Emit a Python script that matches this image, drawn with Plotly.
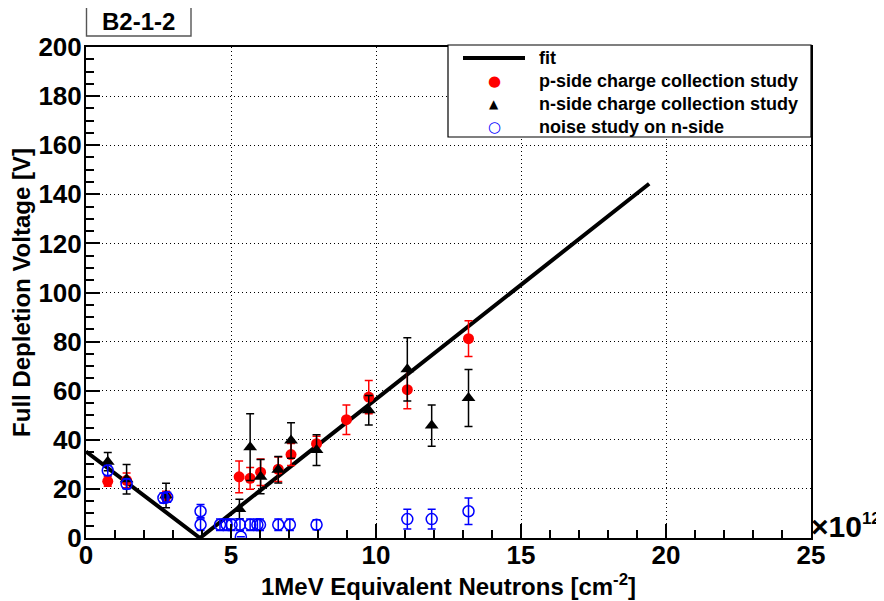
import plotly.graph_objects as go

# ---------------- data ----------------
fit_x = [0.0, 3.93, 19.42]
fit_y = [35.2, 0.0, 144.3]

p_x = [0.75, 1.40, 2.76, 5.28, 5.66, 6.02, 6.63, 7.07, 7.95, 8.98, 9.75, 11.08, 13.19]
p_y = [23.1, 23.5, 17.0, 24.9, 24.3, 26.8, 28.0, 34.0, 38.4, 48.2, 57.4, 60.4, 81.2]
p_err = [2.0, 3.0, 2.0, 6.5, 4.4, 5.4, 5.0, 4.5, 3.0, 6.0, 6.8, 7.8, 7.3]

n_x = [0.75, 1.40, 2.76, 5.29, 5.66, 6.02, 6.63, 7.07, 7.95, 9.75, 11.08, 11.92, 13.19]
n_y = [31.1, 23.9, 17.3, 11.8, 37.0, 25.0, 27.8, 39.7, 35.8, 52.0, 68.7, 45.8, 57.0]
n_err = [3.7, 6.0, 5.0, 4.0, 13.6, 7.0, 5.4, 7.2, 6.3, 6.0, 12.9, 8.4, 11.6]

noise_x = [0.75, 1.40, 2.67, 2.80, 3.95, 3.95, 4.62, 4.85, 5.02, 5.31, 5.34, 5.66,
           5.91, 6.00, 6.63, 7.03, 7.95, 11.08, 11.92, 13.19]
noise_y = [27.5, 22.0, 16.3, 16.6, 10.9, 5.4, 5.4, 5.4, 5.4, 5.4, 0.5, 5.4,
           5.4, 5.4, 5.4, 5.4, 5.4, 7.7, 7.7, 10.9]
noise_err = [2.0, 2.0, 2.0, 2.0, 2.7, 2.3, 2.3, 2.3, 2.3, 2.3, 0.0, 2.3,
             2.3, 2.3, 2.3, 2.3, 2.0, 4.0, 4.0, 5.4]

legend_names = ["fit", "p-side charge collection study",
                "n-side charge collection study", "noise study on n-side"]
legend_glyphs = [None, "●", "▲", "○"]
legend_colors = ["black", "#ff0000", "black", "#0000ff"]
x_tickvals = [0, 5, 10, 15, 20, 25]
y_tickvals = list(range(0, 201, 20))
x_title = "1MeV Equivalent Neutrons [cm<sup>-2</sup>]"
y_title = "Full Depletion Voltage [V]"
box_label = "B2-1-2"

FONT = "Liberation Sans, Arial, Helvetica, sans-serif"
GLYPH_FONT = "DejaVu Sans, sans-serif"

fig = go.Figure()

fig.add_trace(go.Scatter(
    x=fit_x, y=fit_y, mode="lines", name=legend_names[0],
    line=dict(color="black", width=4)))

fig.add_trace(go.Scatter(
    x=p_x, y=p_y, mode="markers", name=legend_names[1],
    marker=dict(symbol="circle", size=11, color="#ff0000"),
    error_y=dict(type="data", array=p_err, color="#ff0000", thickness=1.5, width=4)))

fig.add_trace(go.Scatter(
    x=n_x, y=n_y, mode="markers", name=legend_names[2],
    marker=dict(symbol="triangle-up", size=12, color="black"),
    error_y=dict(type="data", array=n_err, color="black", thickness=1.5, width=4)))

fig.add_trace(go.Scatter(
    x=noise_x, y=noise_y, mode="markers", name=legend_names[3],
    marker=dict(symbol="circle-open", size=11, color="#0000ff", line=dict(width=1.5)),
    error_y=dict(type="data", array=noise_err, color="#0000ff", thickness=1.5, width=4)))

axis_common = dict(
    showline=True, linecolor="black", linewidth=2, mirror=True,
    ticks="inside", tickcolor="black", tickwidth=1.5,
    showgrid=True, gridcolor="black", gridwidth=1, griddash="1px,3px",
    zeroline=False, automargin=False,
    tickfont=dict(family=FONT, size=26, color="black", weight="bold"),
)

fig.update_xaxes(
    range=[0, 25], tickvals=x_tickvals, ticklen=14, ticklabelstandoff=-7,
    minor=dict(dtick=1, ticks="inside", ticklen=8, tickcolor="black", showgrid=False),
    title=dict(text=x_title, font=dict(family=FONT, size=24, color="black", weight="bold"),
               standoff=0),
    **axis_common)

fig.update_yaxes(
    range=[0, 200], tickvals=y_tickvals, ticklen=14, ticklabelstandoff=-3,
    minor=dict(dtick=5, ticks="inside", ticklen=8, tickcolor="black", showgrid=False),
    title=dict(text=y_title, font=dict(family=FONT, size=24, color="black", weight="bold"),
               standoff=2),
    **axis_common)

# page offset of the figure (browser default body margin)
OFF = 8
W, H = 884 - OFF, 601 - OFF
# plot area in page pixels
PL, PR, PT, PB = 86, 811, 47, 538
L, T = PL - OFF, PT - OFF
R, B = W - (PR - OFF), H - (PB - OFF)
pw, ph = PR - PL, PB - PT


def px(xp):
    return (xp - PL) / pw


def py(yp):
    return (PB - yp) / ph


shapes = [
    dict(type="rect", xref="paper", yref="paper",
         x0=px(86.5), x1=px(191), y0=py(36), y1=py(5),
         line=dict(color="#555555", width=1.4), fillcolor="white", layer="above"),
    dict(type="rect", xref="paper", yref="paper",
         x0=px(448), x1=px(811), y0=py(137), y1=py(45),
         line=dict(color="black", width=1.2), fillcolor="white", layer="above"),
]
annotations = [
    dict(text=box_label, xref="paper", yref="paper", x=px(138.5), y=py(21),
         xanchor="center", yanchor="middle", showarrow=False,
         font=dict(family=FONT, size=24, color="black", weight="bold")),
    dict(text="×10<sup><span style='font-size:17px'>12</span></sup>",
         xref="paper", yref="paper", x=px(809), y=py(526),
         xanchor="left", yanchor="middle", showarrow=False,
         font=dict(family=FONT, size=30, color="black", weight="bold")),
]

leg_rows = [58, 81, 104, 127]
for name, glyph, col, yrow in zip(legend_names, legend_glyphs, legend_colors, leg_rows):
    if glyph is None:
        shapes.append(dict(type="line", xref="paper", yref="paper",
                           x0=px(463), x1=px(525), y0=py(yrow), y1=py(yrow),
                           line=dict(color=col, width=4), layer="above"))
    else:
        annotations.append(dict(text=glyph, xref="paper", yref="paper",
                                x=px(494), y=py(yrow), xanchor="center", yanchor="middle",
                                showarrow=False,
                                font=dict(family=GLYPH_FONT, size=15 if glyph != "▲" else 12,
                                          color=col)))
    annotations.append(dict(text=name, xref="paper", yref="paper",
                            x=px(537), y=py(yrow), xanchor="left", yanchor="middle",
                            showarrow=False,
                            font=dict(family=FONT, size=18, color="black", weight="bold")))

fig.update_layout(
    width=W, height=H,
    margin=dict(l=L, r=R, t=T, b=B, pad=0),
    paper_bgcolor="white", plot_bgcolor="white",
    font=dict(family=FONT, color="black"),
    showlegend=False,
    shapes=shapes,
    annotations=annotations,
)

fig.write_html("out.html")
